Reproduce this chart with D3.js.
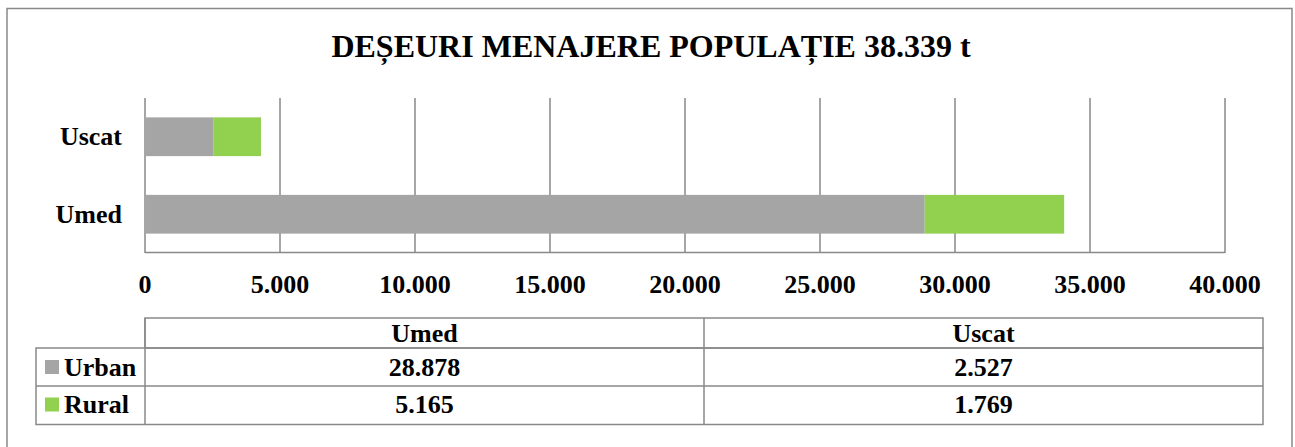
<!DOCTYPE html>
<html><head><meta charset="utf-8">
<script src="https://cdn.jsdelivr.net/npm/d3@7"></script>
<style>html,body{margin:0;padding:0;background:#fff}svg{display:block}text{font-family:"Liberation Serif","Times New Roman",serif;font-weight:bold;fill:#000}</style>
</head><body>
<svg id="c" width="1295" height="447"></svg>
<script>
const title = "DEȘEURI MENAJERE POPULAȚIE 38.339 t";
const categories = ["Umed", "Uscat"];
const seriesNames = ["Urban", "Rural"];
const urban = [28878, 2527];
const rural = [5165, 1769];
const seriesColors = ["#a5a5a5", "#92d050"];
const xTicks = [0, 5000, 10000, 15000, 20000, 25000, 30000, 35000, 40000];

const loc = d3.formatLocale({decimal: ",", thousands: ".", grouping: [3], currency: ["", ""]});
const fmt = loc.format(",d");

const svg = d3.select("#c");
const gridColor = "#898989";

svg.append("rect").attr("x", 7).attr("y", 8.5).attr("width", 1285).attr("height", 445)
  .attr("fill", "#fff").attr("stroke", gridColor).attr("stroke-width", 1.5);

svg.append("text").attr("x", 651).attr("y", 57).attr("text-anchor", "middle")
  .style("font-size", "32px").text(title);

const x = d3.scaleLinear().domain([0, 40000]).range([145, 1225]);
const y = d3.scaleBand().domain(categories.slice().reverse()).range([98, 253]).paddingInner(0.5).paddingOuter(0.25);

// gridlines
svg.append("g").selectAll("line").data(xTicks).join("line")
  .attr("x1", d => x(d)).attr("x2", d => x(d)).attr("y1", 98).attr("y2", 253)
  .attr("stroke", gridColor).attr("stroke-width", 1.5);
// baseline
svg.append("line").attr("x1", x(0)).attr("x2", x(40000)).attr("y1", 252.5).attr("y2", 252.5)
  .attr("stroke", gridColor).attr("stroke-width", 1.5);

// stacked bars
const data = categories.map((c, i) => ({cat: c, Urban: urban[i], Rural: rural[i]}));
const stack = d3.stack().keys(seriesNames)(data);
svg.append("g").selectAll("g").data(stack).join("g")
  .attr("fill", (d, i) => seriesColors[i])
  .selectAll("rect").data(d => d).join("rect")
  .attr("x", d => x(d[0])).attr("width", d => x(d[1]) - x(d[0]))
  .attr("y", d => y(d.data.cat)).attr("height", y.bandwidth());

// category labels
svg.append("g").selectAll("text").data(categories).join("text")
  .attr("x", 122).attr("y", d => y(d) + y.bandwidth() / 2 + 8.5)
  .attr("text-anchor", "end").style("font-size", "26px").text(d => d);

// x tick labels
svg.append("g").selectAll("text").data(xTicks).join("text")
  .attr("x", d => x(d)).attr("y", 293).attr("text-anchor", "middle")
  .style("font-size", "26px").text(d => fmt(d));

// data table
const tx = d3.scaleBand().domain(categories).range([145, 1263]);
const rowY = [318, 348, 386, 424.5];
const tg = svg.append("g").attr("stroke", gridColor).attr("stroke-width", 1.5).attr("fill", "none");
tg.append("rect").attr("x", 145).attr("y", rowY[0]).attr("width", 1263 - 145).attr("height", rowY[1] - rowY[0]);
tg.append("rect").attr("x", 36).attr("y", rowY[1]).attr("width", 1263 - 36).attr("height", rowY[3] - rowY[1]);
tg.append("line").attr("x1", 36).attr("x2", 1263).attr("y1", rowY[2]).attr("y2", rowY[2]);
tg.append("line").attr("x1", 145).attr("x2", 145).attr("y1", rowY[0]).attr("y2", rowY[3]);
tg.append("line").attr("x1", tx("Uscat")).attr("x2", tx("Uscat")).attr("y1", rowY[0]).attr("y2", rowY[3]);

svg.append("g").selectAll("text").data(categories).join("text")
  .attr("x", d => tx(d) + tx.bandwidth() / 2).attr("y", 342)
  .attr("text-anchor", "middle").style("font-size", "26px").text(d => d);

const rows = [urban, rural];
const baselines = [375.5, 413];
rows.forEach((vals, r) => {
  svg.append("rect").attr("x", 45).attr("y", baselines[r] - 15.5).attr("width", 14).attr("height", 14)
    .attr("fill", seriesColors[r]);
  svg.append("text").attr("x", 64).attr("y", baselines[r]).style("font-size", "26px").text(seriesNames[r]);
  svg.append("g").selectAll("text").data(vals).join("text")
    .attr("x", (d, i) => tx(categories[i]) + tx.bandwidth() / 2).attr("y", baselines[r])
    .attr("text-anchor", "middle").style("font-size", "26px").text(d => fmt(d));
});
</script>
</body></html>
